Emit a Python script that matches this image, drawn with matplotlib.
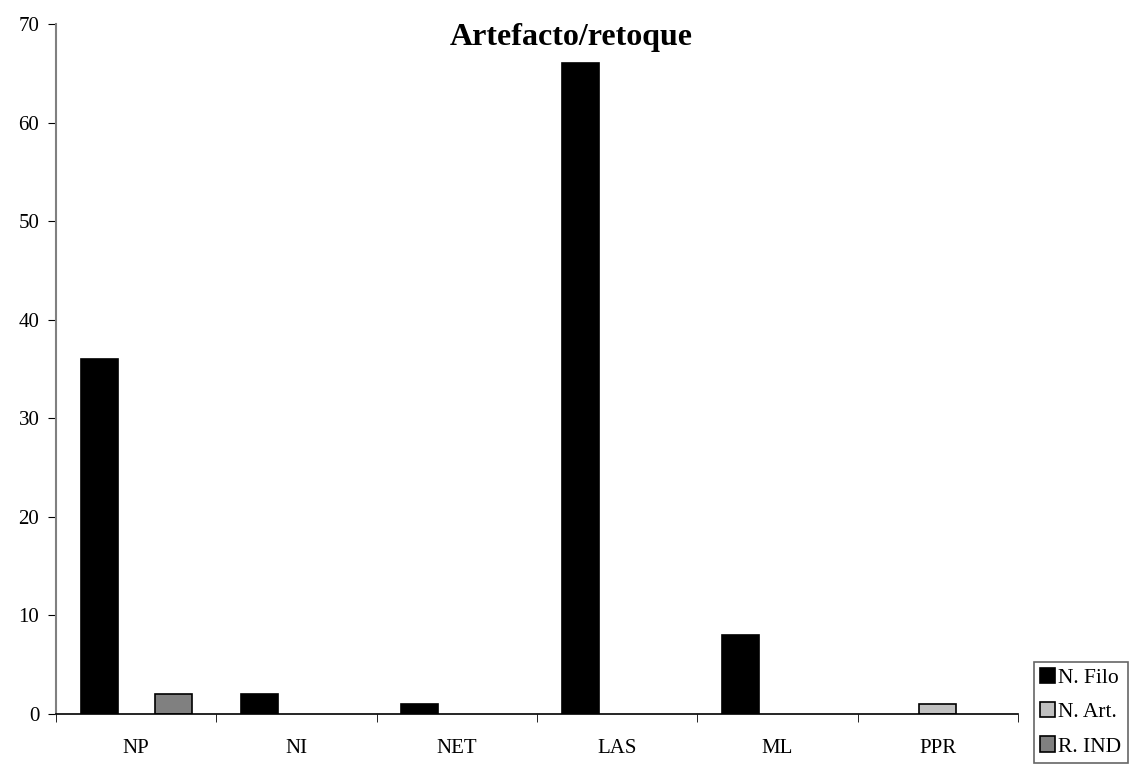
import numpy as np
import matplotlib.pyplot as plt
from matplotlib.patches import Patch

categories = ['NP', 'NI', 'NET', 'LAS', 'ML', 'PPR']
n_filo = [36, 2, 1, 66, 8, 0]
n_art = [0, 0, 0, 0, 0, 1]
r_ind = [2, 0, 0, 0, 0, 0]
series_names = ['N. Filo', 'N. Art.', 'R. IND']
series_colors = ['#000000', '#c0c0c0', '#808080']

plt.rcParams['font.family'] = ['Liberation Serif', 'DejaVu Serif']

fig = plt.figure(figsize=(11.35, 7.72), dpi=100)
ax = fig.add_axes([56 / 1135, 1 - 714 / 772, 962 / 1135, 690 / 772])

x = np.arange(len(categories))
w = 0.231
handles = []
for i, (vals, name, col) in enumerate(zip([n_filo, n_art, r_ind], series_names, series_colors)):
    bars = ax.bar(x + (i - 1) * w, vals, width=w, color=col, edgecolor='black',
                  linewidth=1.2)
    # zero-height bars would leave an edge line on the axis
    for b, v in zip(bars, vals):
        if v == 0:
            b.set_visible(False)
    handles.append(Patch(facecolor=col, edgecolor='black', linewidth=1.2, label=name))

ax.set_xlim(-0.5, len(categories) - 0.5)
ax.set_ylim(0, 70)
ax.set_yticks(range(0, 71, 10))
ax.set_xticks(x)
ax.set_xticklabels(categories)
ax.set_xticks(np.arange(-0.5, len(categories)), minor=True)
ax.tick_params(axis='x', which='major', length=0, pad=18, labelsize=15)
ax.tick_params(axis='x', which='minor', length=6, color='black', direction='out')
ax.tick_params(axis='y', length=6, color='black', labelsize=15, pad=6)

for s in ['top', 'right']:
    ax.spines[s].set_visible(False)
ax.spines['left'].set_color('#808080')
ax.spines['left'].set_linewidth(1.5)
ax.spines['bottom'].set_color('black')
ax.spines['bottom'].set_linewidth(1.2)

fig.text(571 / 1135, 1 - 38 / 772, 'Artefacto/retoque', fontsize=23,
         fontweight='bold', ha='center', va='center')

leg = fig.legend(handles=handles, loc='lower right',
                 bbox_to_anchor=(1128 / 1135, 1 - 763 / 772),
                 fontsize=15.5, frameon=True, fancybox=False, handlelength=0.7,
                 handleheight=0.7, handletextpad=0.15, labelspacing=0.65,
                 borderpad=0.3, borderaxespad=0)
leg.get_frame().set_edgecolor('#404040')
leg.get_frame().set_linewidth(1.2)

fig.savefig('out.png', dpi=100)
